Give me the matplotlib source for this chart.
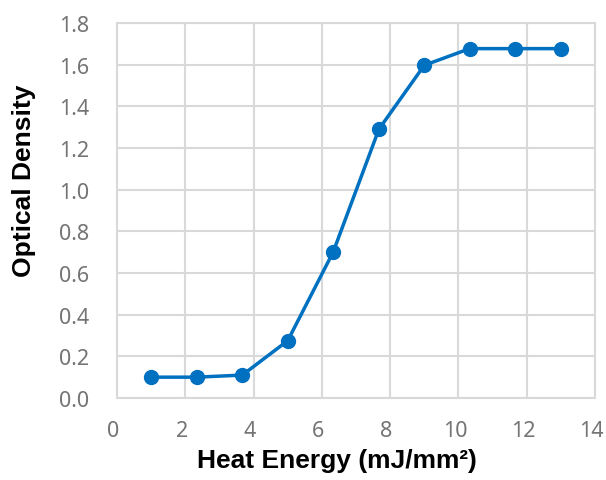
import matplotlib
matplotlib.use("Agg")
import matplotlib.pyplot as plt
import matplotlib.transforms as mtransforms

heat_energy = [1.0, 2.33, 3.67, 5.0, 6.33, 7.67, 9.0, 10.33, 11.67, 13.0]
optical_density = [0.10, 0.10, 0.11, 0.275, 0.70, 1.29, 1.597, 1.677, 1.677, 1.677]
x_ticks = [0, 2, 4, 6, 8, 10, 12, 14]
y_ticks = [0.0, 0.2, 0.4, 0.6, 0.8, 1.0, 1.2, 1.4, 1.6, 1.8]

fig = plt.figure(figsize=(6.06, 4.81), dpi=100)
ax = fig.add_axes([117 / 606, 1 - 399 / 481, 478 / 606, 375 / 481])

ax.plot(heat_energy, optical_density, color='#0070C0', linewidth=2.5,
        marker='o', markersize=10, zorder=3)

tick_font = dict(family='Noto Sans', fontsize=15.5, color='#747474')

ax.set_xlim(0, 14)
ax.set_ylim(0, 1.8)
ax.set_xticks(x_ticks)
ax.set_yticks(y_ticks)
ax.set_xticklabels([str(v) for v in x_ticks], **tick_font)
ax.set_yticklabels([f"{v:.1f}" for v in y_ticks], **tick_font)
ax.grid(True, color='#D9D9D9', linewidth=1.5)
ax.set_axisbelow(True)
for s in ax.spines.values():
    s.set_color('#D9D9D9')
    s.set_linewidth(1.5)
ax.tick_params(axis='both', length=0)
ax.tick_params(axis='y', pad=20)
ax.tick_params(axis='x', pad=16)
for lab in ax.get_xticklabels():
    lab.set_transform(lab.get_transform() + mtransforms.ScaledTranslation(-0.035, 0, fig.dpi_scale_trans))

fig.text(337 / 606, 1 - 461 / 481, 'Heat Energy (mJ/mm²)', fontsize=19, fontweight='bold',
         family=['Liberation Sans', 'DejaVu Sans'], ha='center', va='center')
fig.text(24 / 606, 1 - 181 / 481, 'Optical Density', fontsize=19, fontweight='bold',
         family=['Liberation Sans', 'DejaVu Sans'], ha='center', va='center', rotation=90)

fig.savefig('out.png', dpi=100)
